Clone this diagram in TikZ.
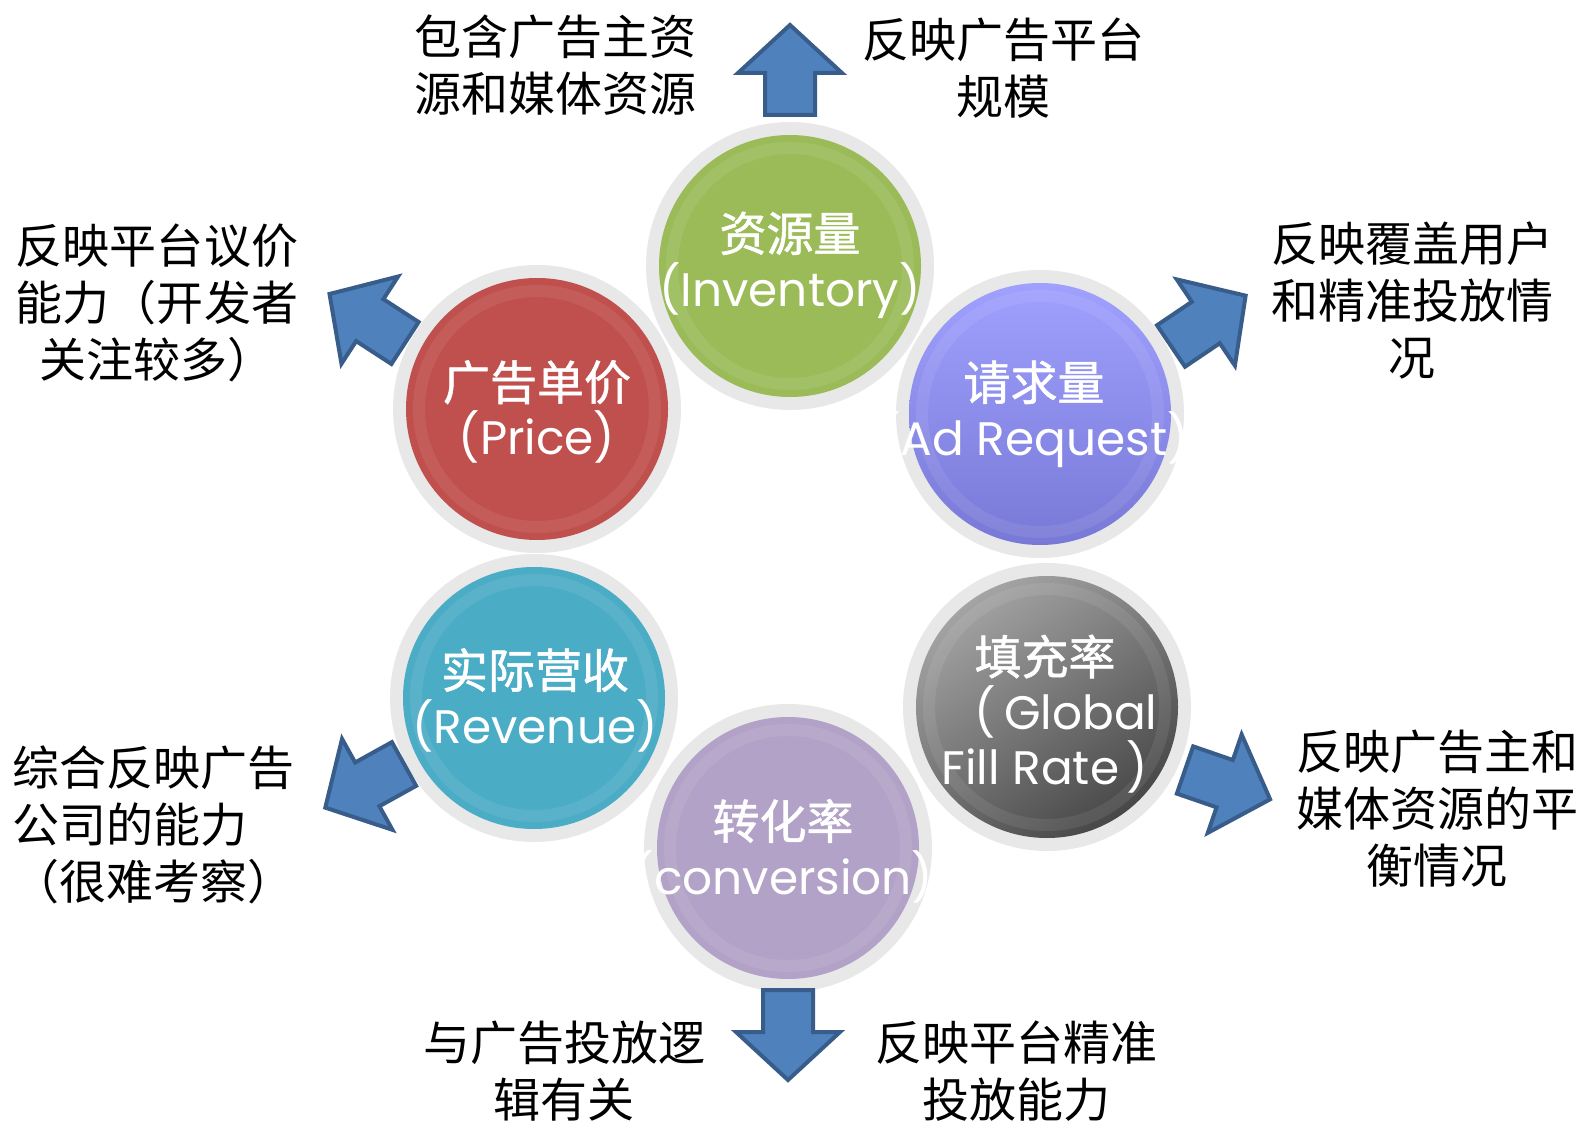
\documentclass[tikz,border=0pt]{standalone}
\usepackage{fontspec}
\setmainfont{Noto Sans CJK SC}
\newfontfamily\cjkm[FakeBold=1.2]{Noto Sans CJK SC}
\newfontfamily\lat{Poppins}
\definecolor{ringgray}{HTML}{E8E8E8}
\definecolor{cgreen}{HTML}{9BBB59}
\definecolor{cred}{HTML}{C0504D}
\definecolor{cteal}{HTML}{4BACC6}
\definecolor{cpurple}{HTML}{B3A2C7}
\definecolor{cviolA}{HTML}{A0A0FF}
\definecolor{cviolB}{HTML}{7878D6}
\definecolor{cgrayA}{HTML}{A4A4A4}
\definecolor{cgrayB}{HTML}{474747}
\definecolor{afill}{HTML}{4F81BD}
\definecolor{aline}{HTML}{385D8A}
\begin{document}
\begin{tikzpicture}[x=0.5pt,y=0.5pt,
  ringc/.style={circle,fill=ringgray,minimum size=144pt,inner sep=0pt},
  ball/.style={circle,minimum size=131pt,inner sep=0pt},
  balltext/.style={text=white,align=center,inner sep=0pt,font=\fontsize{23.5}{27.5}\selectfont},
  lbl/.style={align=center,inner sep=0pt,font=\fontsize{23.5}{28.5}\selectfont},
  arrowshape/.style={fill=afill,draw=aline,line width=2pt,line join=miter},
  blockarrow/.pic={\path[arrowshape] (0,-25) -- (42,-25) -- (42,-52) -- (90,0) -- (42,52) -- (42,25) -- (0,25) -- cycle;},
  rim/.style={draw=white,draw opacity=0.08,line width=6pt}
]
\path[use as bounding box] (0,0) rectangle (1584,-1122);

% rings
\node[ringc] (rInv) at (790,-266) {};
\node[ringc] (rPri) at (537,-409) {};
\node[ringc] (rReq) at (1040,-414) {};
\node[ringc] (rRev) at (534,-698) {};
\node[ringc] (rFil) at (1047,-707) {};
\node[ringc] (rCon) at (788,-848) {};

% balls
\node[ball,fill=cgreen] (inv) at (rInv) {};
\node[ball,fill=cred] (pri) at (rPri) {};
\node[ball,top color=cviolA,bottom color=cviolB] (req) at (rReq) {};
\node[ball,fill=cteal] (rev) at (rRev) {};
\node[ball,top color=cgrayA,bottom color=cgrayB,shading angle=35] (fil) at (rFil) {};
\node[ball,fill=cpurple] (con) at (rCon) {};

\foreach \n in {inv,pri,req,rev,fil,con}{\draw[rim] (\n) circle (118);}

% circle texts
\node[balltext] (invT) at (790,-265) {{\cjkm 资源量}\\{\lat (Inventory)}};
\node[balltext] (priT) at (537,-412) {{\cjkm 广告单价}\\{\lat (Price)}};
\node[balltext] (reqT) at (1034,-414) {{\cjkm 请求量}\\{\lat (Ad Request)}};
\node[balltext] (revT) at (535,-700) {{\cjkm 实际营收}\\{\lat (Revenue)}};
\node[balltext] (filT) at (1045,-714) {{\cjkm 填充率}\\\hspace*{0.9em}{\lat (\,Global}\\{\lat Fill Rate\,)}};
\node[balltext] (conT) at (783,-851) {{\cjkm 转化率}\\{\lat (conversion)}};

% block arrows
\pic at (790,-115) [rotate=90] {blockarrow};
\pic at (788,-990) [rotate=-90] {blockarrow};
\pic at (405,-343) [rotate=147] {blockarrow};
\pic at (1171,-346) [rotate=34] {blockarrow};
\pic at (404,-764) [rotate=209] {blockarrow};
\pic at (1185,-770) [rotate=-19] {blockarrow};

% labels
\node[lbl] (l1) at (555,-65) {包含广告主资\\源和媒体资源};
\node[lbl] (l2) at (1003,-68) {反映广告平台\\规模};
\node[lbl] (l3) at (157,-303) {反映平台议价\\能力（开发者\\关注较多）};
\node[lbl] (l4) at (1412,-301) {反映覆盖用户\\和精准投放情\\况};
\node[lbl,align=left,anchor=west] (l5) at (12,-825) {综合反映广告\\公司的能力\\（很难考察）};
\node[lbl] (l6) at (1437,-809) {反映广告主和\\媒体资源的平\\衡情况};
\node[lbl] (l7) at (564,-1071) {与广告投放逻\\辑有关};
\node[lbl] (l8) at (1016,-1071) {反映平台精准\\投放能力};
\end{tikzpicture}
\end{document}
